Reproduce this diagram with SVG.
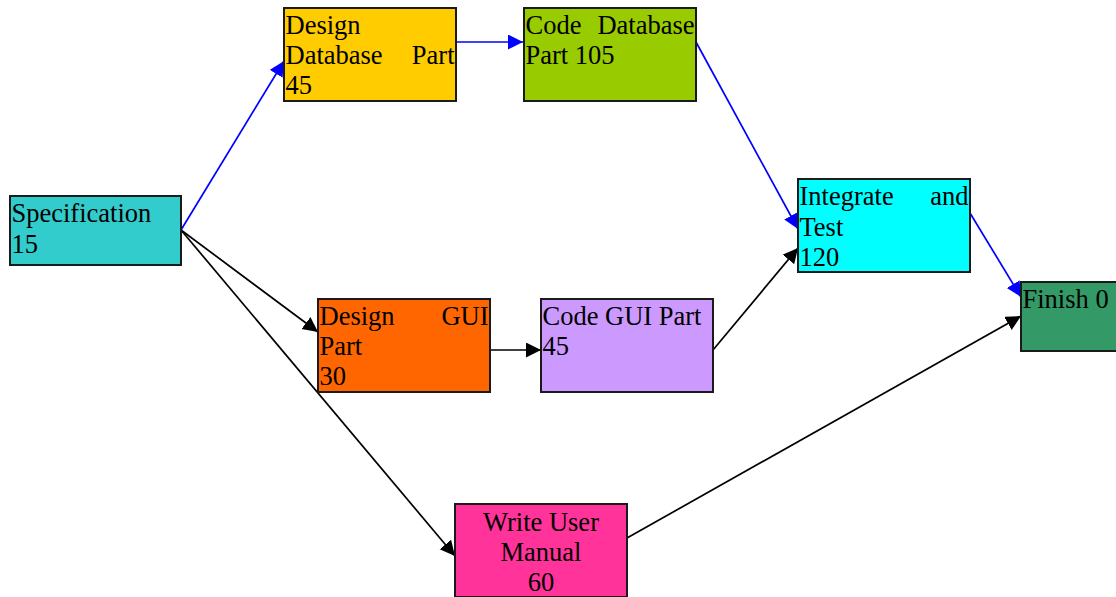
<svg xmlns="http://www.w3.org/2000/svg" width="1116" height="597" viewBox="0 0 1116 597">
<defs>
<style>
.box{stroke:#1a1a1a;stroke-width:2}
.t{font-family:"Liberation Serif","Times New Roman",serif;font-size:26.5px;fill:#000}
.e{text-anchor:end}
.m{text-anchor:middle}
.blue{stroke:#0000FF;stroke-width:1.7;fill:none}
.black{stroke:#000;stroke-width:1.7;fill:none}
</style>
<marker id="ab" markerUnits="userSpaceOnUse" markerWidth="16" markerHeight="16" refX="15" refY="7.5" orient="auto"><path d="M0,0 L15,7.5 L0,15 z" fill="#0000FF"/></marker>
<marker id="ak" markerUnits="userSpaceOnUse" markerWidth="16" markerHeight="16" refX="15" refY="7.5" orient="auto"><path d="M0,0 L15,7.5 L0,15 z" fill="#000"/></marker>
</defs>
<rect width="1116" height="597" fill="#fff"/>
<g id="connectors">
<line class="blue" x1="181" y1="230" x2="284" y2="61" marker-end="url(#ab)"/>
<line class="blue" x1="456" y1="42" x2="523" y2="42" marker-end="url(#ab)"/>
<line class="blue" x1="696" y1="42" x2="798" y2="229" marker-end="url(#ab)"/>
<line class="blue" x1="970" y1="213" x2="1021" y2="297" marker-end="url(#ab)"/>
<line class="black" x1="181" y1="230" x2="318" y2="332" marker-end="url(#ak)"/>
<line class="black" x1="181" y1="230" x2="455" y2="556" marker-end="url(#ak)"/>
<line class="black" x1="490" y1="350" x2="541" y2="350" marker-end="url(#ak)"/>
<line class="black" x1="713" y1="350" x2="798" y2="248" marker-end="url(#ak)"/>
<line class="black" x1="627" y1="538" x2="1021" y2="316" marker-end="url(#ak)"/>
</g>
<g id="spec">
<rect class="box" x="10" y="196" width="171" height="69" fill="#33CCCC"/>
<text class="t" x="11.5" y="222">Specification</text>
<text class="t" x="11.5" y="252.5">15</text>
</g>
<g id="designDB">
<rect class="box" x="284" y="8" width="172" height="93" fill="#FFCC00"/>
<text class="t" x="285.5" y="34">Design</text>
<text class="t" x="285.5" y="64">Database</text>
<text class="t e" x="454.5" y="64">Part</text>
<text class="t" x="285.5" y="94">45</text>
</g>
<g id="codeDB">
<rect class="box" x="524" y="8" width="172" height="93" fill="#99CC00"/>
<text class="t" x="525.5" y="34">Code</text>
<text class="t e" x="694.5" y="34">Database</text>
<text class="t" x="525.5" y="64">Part 105</text>
</g>
<g id="integrate">
<rect class="box" x="798" y="179" width="172" height="93" fill="#00FFFF"/>
<text class="t" x="799.5" y="205">Integrate</text>
<text class="t e" x="968.5" y="205">and</text>
<text class="t" x="799.5" y="235.5">Test</text>
<text class="t" x="799.5" y="266">120</text>
</g>
<g id="finish">
<rect class="box" x="1021" y="282" width="172" height="69" fill="#339966"/>
<text class="t" x="1022.5" y="307.5">Finish 0</text>
</g>
<g id="designGUI">
<rect class="box" x="318" y="299" width="172" height="93" fill="#FF6600"/>
<text class="t" x="319.5" y="325">Design</text>
<text class="t e" x="488.5" y="325">GUI</text>
<text class="t" x="319.5" y="355">Part</text>
<text class="t" x="319.5" y="385">30</text>
</g>
<g id="codeGUI">
<rect class="box" x="541" y="299" width="172" height="93" fill="#CC99FF"/>
<text class="t" x="542.5" y="325">Code GUI Part</text>
<text class="t" x="542.5" y="355">45</text>
</g>
<g id="manual">
<rect class="box" x="455" y="504" width="172" height="93" fill="#FF3399"/>
<text class="t m" x="541" y="530.5">Write User</text>
<text class="t m" x="541" y="560.5">Manual</text>
<text class="t m" x="541" y="590.5">60</text>
</g>
</svg>
